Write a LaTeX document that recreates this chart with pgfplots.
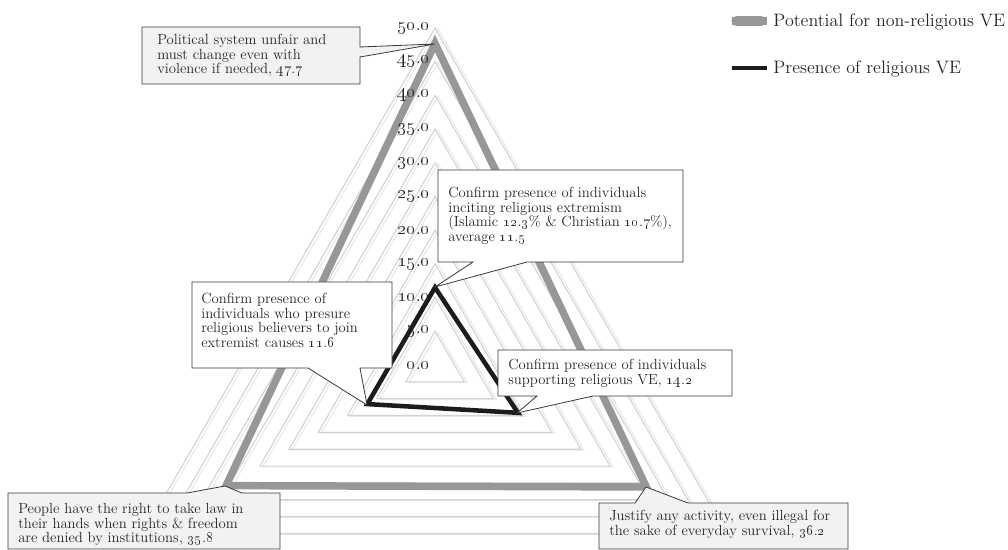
\documentclass[border=0pt]{standalone}
\usepackage{pgfplots}
\pgfplotsset{compat=1.18}
\definecolor{cgrid}{HTML}{D2D2D2}
\definecolor{cgridsh}{HTML}{E8E8E8}
\definecolor{cgrey}{HTML}{979797}
\definecolor{cblack}{HTML}{1C1C1C}
\definecolor{cbox}{HTML}{F2F2F2}
\definecolor{cedge}{HTML}{3A3A3A}
\definecolor{ctext}{HTML}{262626}
\newcommand{\osn}[2]{\oldstylenums{#1}.\oldstylenums{#2}}
\tikzset{
  callout/.style={draw=cedge, line width=0.6pt, line join=miter},
  ctxt/.style={anchor=north west, align=left, inner sep=0pt, text=ctext,
               font=\fontsize{11}{11}\selectfont},
}
\begin{document}
\begin{tikzpicture}
\begin{axis}[
  scale only axis, width=756pt, height=412.5pt,
  xmin=-64.54, xmax=85.01, ymin=-27.45, ymax=54.15,
  hide axis, clip=false,
  legend style={at={(rel axis cs:0.718,0.985)}, anchor=north west,
    draw=none, fill=none, font=\fontsize{13.5}{14}\selectfont,
    row sep=20pt, text=ctext},
  legend cell align=left,
]
% grid triangles (with light shadow)
\pgfplotsinvokeforeach{5,10,...,50}{
  \addplot[cgridsh, line width=0.8pt, xshift=2.2pt, yshift=-0.6pt, data cs=polar, forget plot]
    coordinates {(90,#1) (210,#1) (330,#1)} -- cycle;
  \addplot[cgrid, line width=0.8pt, data cs=polar, forget plot]
    coordinates {(90,#1) (210,#1) (330,#1)} -- cycle;
}
% potential for non-religious VE
\addplot[cgrey, line width=5.6pt, data cs=polar,
  legend image code/.code={\path (0pt,0pt) -- (26.5pt,0pt);
    \draw[cgrey,line width=7.5pt,line cap=round] (3.5pt,0pt) -- (22pt,0pt);}]
  coordinates {(90,47.7) (210,35.8) (330,36.2)} -- cycle;
\addlegendentry{Potential for non-religious VE}
% presence of religious VE
\addplot[cblack, line width=3.4pt, data cs=polar,
  legend image code/.code={\path (0pt,0pt) -- (26.5pt,0pt);
    \draw[cblack,line width=3.2pt,line cap=round] (1.6pt,0pt) -- (22.5pt,0pt);}]
  coordinates {(90,11.5) (210,11.6) (330,14.2)} -- cycle;
\addlegendentry{Presence of religious VE}
% radial tick labels
\pgfplotsinvokeforeach{0,5,...,50}{
  \node[anchor=east, inner sep=0pt, text=ctext, font=\fontsize{14}{14}\selectfont,
        xshift=-3.5pt] at (axis cs:0,#1) {\osn{#1}{0}};
}
\end{axis}
\begin{scope}[shift={(current axis.north west)}, x=0.75pt, y=-0.75pt]
  % 47.7
  \draw[callout, fill=cbox] (142,27) -- (360,27) -- (360,47) -- (435,44) -- (360,57)
    -- (360,84) -- (142,84) -- cycle;
  \node[ctxt] at (157,34) {Political system unfair and\\must change even with\\violence if needed, \osn{47}{7}};
  % 11.5
  \draw[callout, fill=white] (438,170) -- (683,170) -- (683,262) -- (527,262) -- (435,287)
    -- (473,262) -- (438,262) -- cycle;
  \node[ctxt] at (448,187) {Confirm presence of individuals\\inciting religious extremism\\(Islamic \osn{12}{3}\% \& Christian \osn{10}{7}\%),\\average \osn{11}{5}};
  % 11.6
  \draw[callout, fill=white] (192,282) -- (392,282) -- (392,368) -- (360,368) -- (367,405)
    -- (308,368) -- (192,368) -- cycle;
  \node[ctxt] at (201,293) {Confirm presence of\\individuals who presure\\religious believers to join\\extremist causes \osn{11}{6}};
  % 14.2
  \draw[callout, fill=white] (498,350) -- (732,350) -- (732,396) -- (593,396) -- (517,413)
    -- (537,396) -- (498,396) -- cycle;
  \node[ctxt] at (508,359) {Confirm presence of individuals\\supporting religious VE, \osn{14}{2}};
  % 35.8
  \draw[callout, fill=cbox] (8,493) -- (187,493) -- (225,486) -- (242,493) -- (280,493)
    -- (280,549) -- (8,549) -- cycle;
  \node[ctxt] at (18,503) {People have the right to take law in\\their hands when rights \& freedom\\are denied by institutions, \osn{35}{8}};
  % 36.2
  \draw[callout, fill=cbox] (599,503) -- (635,503) -- (646,487) -- (688,503) -- (848,503)
    -- (848,549) -- (599,549) -- cycle;
  \node[ctxt] at (609,510) {Justify any activity, even illegal for\\the sake of everyday survival, \osn{36}{2}};
\end{scope}
\pgfresetboundingbox
\path[use as bounding box] (current axis.south west) rectangle (current axis.north east);
\end{tikzpicture}
\end{document}
